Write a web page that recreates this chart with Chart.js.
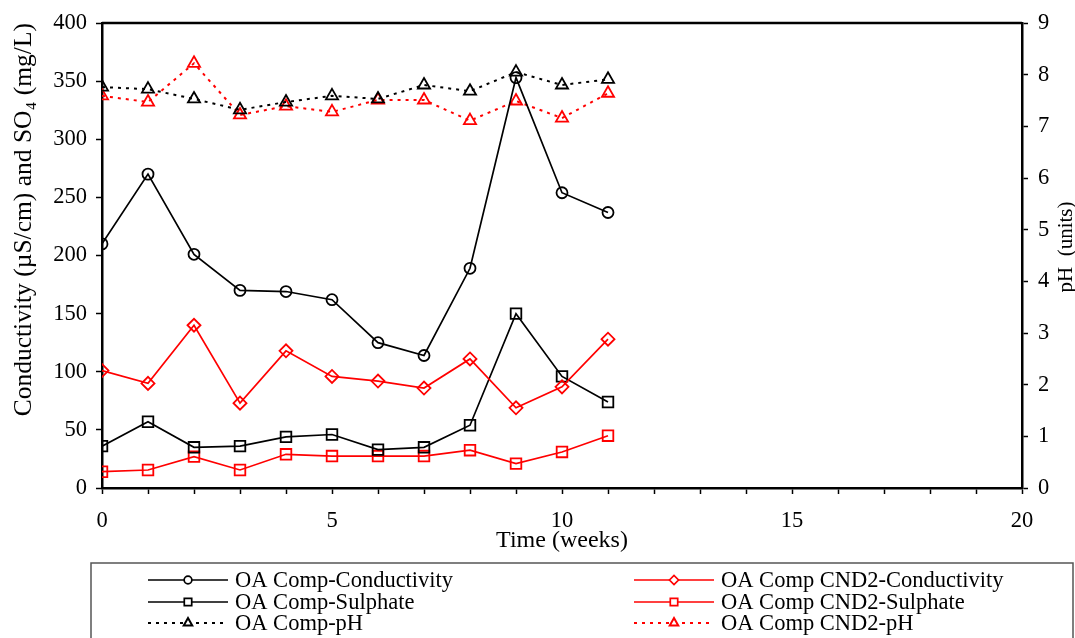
<!DOCTYPE html>
<html>
<head>
<meta charset="utf-8">
<script src="https://cdn.jsdelivr.net/npm/chart.js@4/dist/chart.umd.min.js"></script>
<style>
  html, body { margin: 0; padding: 0; background: #fff; }
  #wrap { width: 1075px; height: 638px; }
</style>
</head>
<body>
<div id="wrap"><canvas id="chart"></canvas></div>
<script>
// Data
const weeks = [0, 1, 2, 3, 4, 5, 6, 7, 8, 9, 10, 11];
const oaConductivity = [210, 270, 201, 170, 169, 162, 125, 114, 189, 353, 254, 237];
const cnd2Conductivity = [101, 90, 140, 73, 118, 96, 92, 86, 111, 69, 87, 128];
const oaSulphate = [36, 57, 35, 36, 44, 46, 33, 35, 54, 150, 96, 74];
const cnd2Sulphate = [14, 15.5, 27, 15.5, 29, 27.5, 27.5, 27.5, 32.5, 21, 31, 45];
const oaPH = [7.76, 7.72, 7.53, 7.32, 7.47, 7.59, 7.53, 7.8, 7.68, 8.05, 7.8, 7.91];
const cnd2PH = [7.59, 7.47, 8.22, 7.22, 7.39, 7.28, 7.51, 7.51, 7.11, 7.49, 7.16, 7.64];

const FONT = 'Liberation Serif, Times New Roman, serif';

function points(values) {
    return weeks.map((w, i) => ({ x: w, y: values[i] }));
}

function series(label, values, color, style, radius, axis, dash) {
    return {
        label: label,
        data: points(values),
        yAxisID: axis,
        borderColor: color,
        backgroundColor: 'transparent',
        borderWidth: dash ? 2 : 1.7,
        borderDash: dash || [],
        pointStyle: style,
        pointRadius: radius,
        pointBorderWidth: 1.8,
        pointBorderColor: color,
        pointBackgroundColor: 'transparent',
        tension: 0
    };
}

const datasets = [
    series('OA Comp-Conductivity', oaConductivity, '#000000', 'circle', 5.5, 'y'),
    series('OA Comp CND2-Conductivity', cnd2Conductivity, '#ff0000', 'rectRot', 6.5, 'y'),
    series('OA Comp-Sulphate', oaSulphate, '#000000', 'rect', 7.5, 'y'),
    series('OA Comp CND2-Sulphate', cnd2Sulphate, '#ff0000', 'rect', 7.5, 'y'),
    series('OA Comp-pH', oaPH, '#000000', 'triangle', 7, 'y2', [3, 5]),
    series('OA Comp CND2-pH', cnd2PH, '#ff0000', 'triangle', 7, 'y2', [3, 5])
];

// top frame line, axis titles and boxed two-column legend
const extras = {
    id: 'extras',
    afterDraw(chart) {
        const ctx = chart.ctx;
        const area = chart.chartArea;
        ctx.save();
        ctx.strokeStyle = '#000';
        ctx.lineWidth = 2.5;
        ctx.beginPath();
        ctx.moveTo(area.left, area.top);
        ctx.lineTo(area.right, area.top);
        ctx.stroke();

        ctx.fillStyle = '#000';
        ctx.textAlign = 'center';
        ctx.textBaseline = 'middle';
        ctx.font = '24px ' + FONT;
        ctx.fillText('Time (weeks)', (area.left + area.right) / 2, 541);

        // right axis title, reading bottom to top
        ctx.font = '21px ' + FONT;
        ctx.translate(1066, 247);
        ctx.rotate(-Math.PI / 2);
        ctx.fillText('pH  (units)', 0, 0);
        ctx.restore();

        // legend box
        ctx.save();
        ctx.strokeStyle = '#555';
        ctx.lineWidth = 1.5;
        ctx.strokeRect(91, 563, 982, 80);
        const cols = [148, 634];
        const rows = [580, 602, 623];
        chart.data.datasets.forEach((ds, i) => {
            const x = cols[i % 2];
            const y = rows[Math.floor(i / 2)];
            ctx.strokeStyle = ds.borderColor;
            ctx.lineWidth = ds.borderWidth;
            ctx.setLineDash(ds.borderDash);
            ctx.beginPath();
            ctx.moveTo(x, y);
            ctx.lineTo(x + 80, y);
            ctx.stroke();
            ctx.setLineDash([]);
            ctx.fillStyle = '#fff';
            Chart.helpers.drawPoint(ctx, {
                pointStyle: ds.pointStyle,
                radius: ds.pointRadius * 0.7,
                borderWidth: 1.6,
                rotation: 0
            }, x + 40, y);
            ctx.fillStyle = '#000';
            ctx.font = '22.5px ' + FONT;
            ctx.textAlign = 'left';
            ctx.textBaseline = 'middle';
            ctx.fillText(ds.label, x + 87, y + 1);
        });
        ctx.restore();
    }
};

const axisLine = { display: true, color: '#000', width: 2.5 };
const tickMarks = { drawOnChartArea: false, drawTicks: true, tickLength: 6, tickColor: '#000', tickWidth: 1.5 };
const tickFont = { family: FONT, size: 22.5, lineHeight: 1 };

new Chart(document.getElementById('chart'), {
    type: 'line',
    data: { datasets: datasets },
    plugins: [extras],
    options: {
        responsive: true,
        maintainAspectRatio: false,
        animation: false,
        layout: { padding: { left: 0, right: 0, top: 23, bottom: 0 } },
        plugins: {
            legend: { display: false },
            tooltip: { enabled: false }
        },
        scales: {
            x: {
                type: 'linear',
                min: 0,
                max: 20,
                border: axisLine,
                grid: tickMarks,
                afterFit: (scale) => { scale.height = 150; },
                ticks: {
                    stepSize: 1,
                    autoSkip: false,
                    maxRotation: 0,
                    color: '#000',
                    font: tickFont,
                    padding: 16,
                    callback: (v) => (v % 5 === 0 ? String(v) : '')
                }
            },
            y: {
                position: 'left',
                min: 0,
                max: 400,
                border: axisLine,
                grid: tickMarks,
                afterFit: (scale) => { scale.width = 102; },
                ticks: {
                    stepSize: 50,
                    color: '#000',
                    font: tickFont,
                    padding: 9
                },
                title: {
                    display: true,
                    text: 'Conductivity (\u00b5S/cm) and SO\u2084 (mg/L)',
                    align: 'end',
                    color: '#000',
                    font: { family: FONT, size: 25.5 },
                    padding: { top: 9, bottom: 0 }
                }
            },
            y2: {
                position: 'right',
                min: 0,
                max: 9,
                border: axisLine,
                grid: tickMarks,
                afterFit: (scale) => { scale.width = 53; },
                ticks: {
                    stepSize: 1,
                    color: '#000',
                    font: tickFont,
                    padding: 10
                }
            }
        }
    }
});
</script>
</body>
</html>
